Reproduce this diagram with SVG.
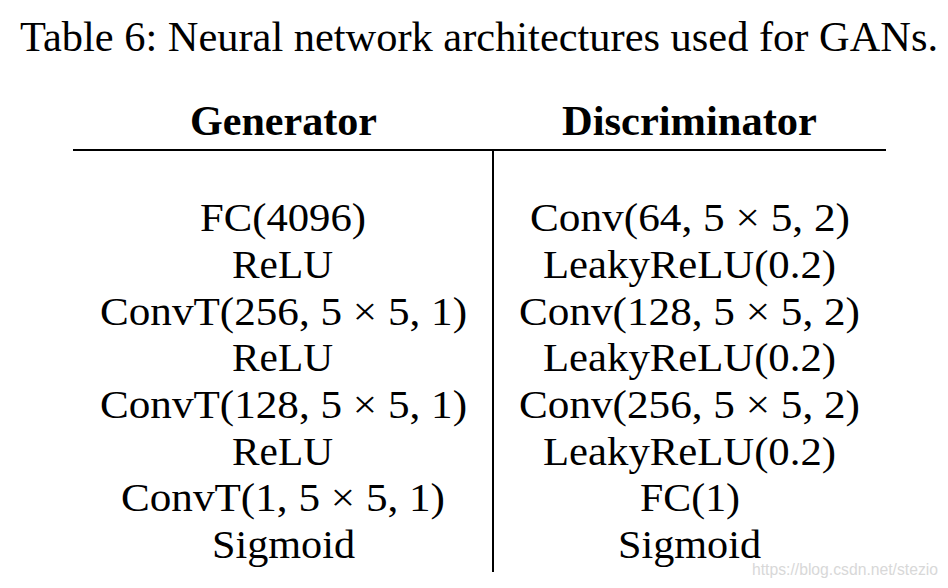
<svg xmlns="http://www.w3.org/2000/svg" width="948" height="588" viewBox="0 0 948 588" font-family="Liberation Serif, Times New Roman, serif">
<style>
.s{font-family:'Liberation Serif','Times New Roman',serif;fill:#000;}
.t{font-size:42.3px;}
.h{font-size:42px;font-weight:bold;}
.c{font-size:39px;}
.w{font-family:'Liberation Sans',Arial,sans-serif;font-size:16px;fill:#d8d8d8;}
</style>
<rect width="948" height="588" fill="#fff"/>
<g id="title"><text class="s t" x="20" y="51" textLength="918" lengthAdjust="spacingAndGlyphs">Table 6: Neural network architectures used for GANs.</text></g>
<g id="rules" stroke="#000" stroke-width="2">
<line x1="73" y1="150" x2="886" y2="150"/>
<line x1="493" y1="150" x2="493" y2="572"/>
</g>
<g id="generator">
<text class="s h" x="190" y="135" textLength="187" lengthAdjust="spacingAndGlyphs">Generator</text>
<text class="s c" x="200" y="231" textLength="166" lengthAdjust="spacingAndGlyphs">FC(4096)</text>
<text class="s c" x="232" y="278" textLength="101" lengthAdjust="spacingAndGlyphs">ReLU</text>
<text class="s c" x="100" y="325" textLength="367" lengthAdjust="spacingAndGlyphs">ConvT(256, 5 × 5, 1)</text>
<text class="s c" x="232" y="371" textLength="101" lengthAdjust="spacingAndGlyphs">ReLU</text>
<text class="s c" x="100" y="418" textLength="367" lengthAdjust="spacingAndGlyphs">ConvT(128, 5 × 5, 1)</text>
<text class="s c" x="232" y="465" textLength="101" lengthAdjust="spacingAndGlyphs">ReLU</text>
<text class="s c" x="121" y="511" textLength="324" lengthAdjust="spacingAndGlyphs">ConvT(1, 5 × 5, 1)</text>
<text class="s c" x="212" y="558" textLength="143" lengthAdjust="spacingAndGlyphs">Sigmoid</text>
</g>
<g id="discriminator">
<text class="s h" x="562" y="135" textLength="255" lengthAdjust="spacingAndGlyphs">Discriminator</text>
<text class="s c" x="530" y="231" textLength="320" lengthAdjust="spacingAndGlyphs">Conv(64, 5 × 5, 2)</text>
<text class="s c" x="543" y="278" textLength="293" lengthAdjust="spacingAndGlyphs">LeakyReLU(0.2)</text>
<text class="s c" x="519" y="325" textLength="341" lengthAdjust="spacingAndGlyphs">Conv(128, 5 × 5, 2)</text>
<text class="s c" x="543" y="371" textLength="293" lengthAdjust="spacingAndGlyphs">LeakyReLU(0.2)</text>
<text class="s c" x="519" y="418" textLength="341" lengthAdjust="spacingAndGlyphs">Conv(256, 5 × 5, 2)</text>
<text class="s c" x="543" y="465" textLength="293" lengthAdjust="spacingAndGlyphs">LeakyReLU(0.2)</text>
<text class="s c" x="640" y="511" textLength="100" lengthAdjust="spacingAndGlyphs">FC(1)</text>
<text class="s c" x="618" y="558" textLength="143" lengthAdjust="spacingAndGlyphs">Sigmoid</text>
</g>
<g id="watermark"><text class="w" x="752" y="575" textLength="186" lengthAdjust="spacingAndGlyphs">https://blog.csdn.net/stezio</text></g>
</svg>
